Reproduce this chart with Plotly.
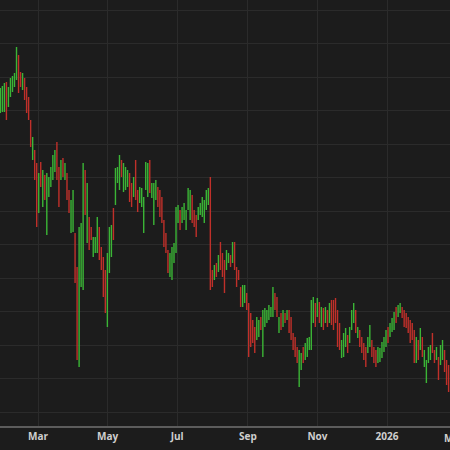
import pandas as pd
import plotly.graph_objects as go

# ---- data (daily bars) ----
high = [36.2,36.4,36.7,36.8,36.3,37.2,37.4,37.7,40.3,39.5,37.8,37.7,37.2,36.3,35.3,33.0,31.3,30.0,28.7,27.7,
        28.8,28.0,27.5,27.7,27.3,28.3,29.5,30.0,30.8,28.3,29.0,29.2,28.7,27.7,26.0,25.0,26.0,21.7,18.3,22.3,
        22.7,28.7,28.0,26.7,23.3,22.3,21.3,21.3,23.3,22.3,20.3,19.3,18.0,19.7,22.3,22.5,24.2,28.2,28.3,29.5,
        29.0,28.7,28.3,28.0,27.7,26.7,27.3,29.0,26.0,26.3,26.2,25.3,28.8,28.7,29.0,26.7,26.7,27.0,26.3,26.0,
        25.3,23.0,21.7,20.0,19.7,20.3,20.7,24.3,24.5,24.0,24.3,24.7,24.0,26.2,26.0,25.5,24.0,23.5,24.3,24.7,
        25.3,25.0,26.0,26.2,27.3,18.0,18.5,18.7,19.5,20.8,19.7,19.0,20.0,19.7,19.5,20.8,20.8,18.3,18.0,16.3,
        16.5,16.5,15.7,14.7,13.7,13.0,12.3,13.3,13.0,13.3,14.0,14.2,14.0,14.5,14.3,16.3,15.7,15.3,13.3,13.7,
        14.0,13.7,14.0,14.0,13.3,11.7,11.3,10.3,10.0,9.7,10.3,10.7,11.2,11.3,15.0,15.3,14.7,15.2,14.8,14.3,
        14.2,14.3,14.0,14.7,15.0,15.0,15.2,14.0,12.7,11.0,11.7,12.2,11.5,12.3,14.0,14.7,14.0,12.3,12.0,11.3,
        10.7,10.3,11.3,12.5,11.0,10.3,10.0,10.3,10.2,10.8,11.3,12.0,12.3,12.7,13.2,13.8,14.3,14.5,14.7,14.3,
        14.0,13.7,13.3,13.0,12.7,12.0,11.3,11.0,12.2,11.3,10.0,9.0,10.3,10.5,11.7,10.0,10.3,9.3,10.5,11.0,
        10.0,9.0,8.5]
low = [33.7,33.8,33.8,33.0,34.3,35.3,35.8,36.3,37.0,35.7,36.3,36.0,35.0,33.7,33.0,30.3,29.0,27.0,22.3,23.7,
       26.3,24.3,25.0,21.5,25.3,26.3,27.0,27.8,27.0,24.3,27.0,27.3,27.0,25.0,23.7,21.7,21.8,16.7,9.0,8.3,
       16.3,16.0,23.5,20.7,20.0,21.0,19.3,19.7,19.7,19.0,18.0,15.3,13.7,12.3,17.7,19.3,21.0,24.5,26.7,26.0,
       27.3,25.8,26.0,26.3,24.8,24.3,25.3,25.0,23.8,24.7,24.3,21.7,26.0,25.3,25.7,25.2,22.5,25.0,24.3,23.3,
       22.7,20.3,19.7,17.7,17.3,17.0,18.7,19.7,22.7,22.0,22.7,23.0,22.0,24.0,23.0,22.7,22.3,21.3,23.0,23.5,
       23.3,22.7,24.0,24.5,16.0,16.3,17.0,17.3,17.8,18.0,17.3,15.7,18.0,18.7,18.3,18.7,18.0,16.3,17.0,14.3,
       14.3,14.7,14.0,9.3,10.3,10.7,9.7,11.0,11.3,12.0,9.3,12.3,12.7,13.0,13.3,13.3,14.0,13.3,11.7,12.0,
       12.3,12.7,13.0,11.7,11.0,10.0,9.3,8.7,6.3,8.0,8.7,9.0,9.3,10.0,10.0,12.7,12.3,13.3,12.7,12.3,
       12.0,12.7,12.3,12.7,12.5,12.0,12.7,10.3,10.0,9.2,9.3,10.3,9.7,10.7,12.0,12.7,11.7,11.2,10.3,9.7,
       9.0,8.3,9.7,10.3,9.3,8.7,8.3,8.7,8.8,9.2,9.8,10.3,10.7,11.3,11.8,12.0,12.7,13.3,13.7,13.2,
       12.3,12.2,11.7,10.7,11.0,8.7,8.7,9.0,10.0,9.3,8.3,6.7,8.7,9.0,9.7,8.7,9.0,7.0,8.5,9.0,
       7.8,6.5,5.8]
open_ = [34.3,34.4,34.5,36.2,34.7,35.7,36.1,36.6,37.5,39.0,37.5,36.4,36.9,35.9,34.9,32.6,29.5,29.5,27.8,24.5,
         28.4,25.0,27.1,23.0,25.7,26.7,27.5,28.2,30.2,27.7,27.4,28.9,27.3,27.2,25.6,22.4,22.6,21.0,17.5,10.5,
         17.5,18.5,27.3,21.8,22.8,22.1,19.7,20.0,20.3,21.8,19.9,18.7,17.3,13.5,18.5,19.9,23.6,25.2,27.0,26.6,
         28.7,26.3,26.4,26.6,27.2,26.3,25.7,28.3,25.6,25.0,24.7,22.4,26.5,25.9,28.4,25.5,23.3,25.4,25.9,25.5,
         24.8,22.5,21.3,19.6,17.8,17.7,19.1,20.6,23.1,23.6,23.0,23.3,22.4,24.4,23.6,25.0,23.7,23.1,23.3,23.7,
         23.7,23.1,24.4,24.8,26.5,17.7,17.3,18.4,18.1,20.3,19.3,18.4,18.4,18.9,19.3,19.1,20.3,17.9,17.8,15.9,
         14.7,15.0,15.4,14.0,13.1,12.6,11.8,11.5,11.6,13.1,10.3,12.7,13.0,13.3,13.5,13.9,15.4,14.9,12.0,13.4,
         12.6,13.5,13.2,13.6,12.9,11.4,10.9,10.0,7.0,8.3,10.0,9.3,9.7,10.3,10.8,13.2,14.3,13.7,14.4,12.7,
         13.8,13.0,13.7,13.1,14.5,14.4,14.7,13.3,12.2,9.5,9.8,10.7,11.1,11.0,12.4,13.1,13.5,11.4,11.7,11.0,
         10.4,9.9,10.0,10.7,10.7,10.0,9.7,9.0,9.1,9.5,10.1,10.6,12.0,11.6,12.1,12.4,14.0,13.5,13.9,14.1,
         13.7,13.4,13.0,12.6,12.4,11.4,9.2,10.6,10.4,10.9,8.6,7.1,9.0,9.3,11.3,9.8,9.3,8.9,8.9,9.4,
         9.6,8.6,8.1]
close = [35.7,35.9,36.1,33.8,35.9,36.8,37.1,37.4,39.6,36.4,36.6,37.3,35.5,34.2,33.5,30.8,30.9,27.6,23.5,27.0,
         26.8,27.4,25.5,26.8,27.0,28.0,29.1,29.7,27.7,25.0,28.6,27.7,28.4,25.5,24.2,24.4,25.3,17.6,11.0,20.5,
         21.6,26.5,24.3,25.5,20.7,21.3,20.9,21.0,22.7,19.6,18.5,16.0,14.4,18.5,21.5,22.0,21.6,27.5,28.0,28.8,
         27.6,28.1,27.9,27.7,25.3,24.8,27.0,25.7,24.2,26.0,25.8,24.6,28.3,28.0,26.3,26.4,25.9,26.6,24.7,23.8,
         23.2,20.8,20.1,18.2,19.2,19.7,20.3,23.4,24.1,22.4,24.0,24.4,23.6,25.8,25.4,23.2,22.6,21.7,24.0,24.5,
         24.9,24.6,25.6,25.9,17.0,16.6,18.2,17.6,19.2,18.6,17.8,16.4,19.6,19.5,18.6,20.4,18.6,16.7,17.2,14.7,
         16.1,16.2,14.3,10.4,11.0,11.2,10.2,12.9,12.7,12.3,13.1,13.8,13.7,14.2,14.1,15.7,14.3,13.7,13.0,12.3,
         13.7,12.9,13.8,12.1,11.5,10.3,9.7,9.0,9.3,9.4,9.0,10.4,10.8,11.0,14.4,14.9,12.8,14.8,13.1,13.9,
         12.4,14.0,12.6,14.3,13.0,12.6,13.2,11.0,10.5,10.6,11.2,11.8,10.1,12.0,13.6,14.3,12.2,12.1,10.6,10.0,
         9.3,8.7,11.0,12.1,9.6,9.0,8.6,10.0,9.9,10.5,11.0,11.7,11.0,12.4,12.9,13.4,13.0,14.3,14.5,13.4,
         12.6,12.5,12.0,11.1,11.3,9.3,10.8,9.4,11.8,9.7,9.7,8.6,10.0,10.2,10.1,9.0,10.0,7.4,10.1,10.6,
         8.2,6.9,6.2]

dates = pd.date_range("2025-01-27", "2026-02-24", periods=len(close))

tick_dates = ["2025-03-01", "2025-05-01", "2025-07-01", "2025-09-01", "2025-11-01", "2026-01-01"]
tick_text = ["Mar", "May", "Jul", "Sep", "Nov", "2026"]
extra_tick_date = "2026-03-01"
extra_tick_text = "Mar"

x_left = pd.Timestamp("2025-01-26 16:20")
x_right = pd.Timestamp("2026-02-25 05:45")

BG = "#1c1c1c"
GRID = "#2b2b2b"
UP = "#3bb536"
DOWN = "#c0302a"

fig = go.Figure(go.Ohlc(
    x=dates, open=open_, high=high, low=low, close=close,
    increasing=dict(line=dict(color=UP, width=1.4)),
    decreasing=dict(line=dict(color=DOWN, width=1.4)),
    tickwidth=0.25,
    hoverinfo="skip",
))

fig.update_layout(
    width=450, height=450,
    margin=dict(l=0, r=0, t=0, b=24),
    paper_bgcolor=BG, plot_bgcolor=BG,
    showlegend=False,
    font=dict(family="Open Sans", size=10, color="#cfcfcf"),
)
fig.update_xaxes(
    type="date",
    range=[x_left, x_right],
    rangeslider=dict(visible=False),
    tickvals=tick_dates, ticktext=tick_text,
    showgrid=True, gridcolor=GRID, gridwidth=1,
    showline=True, linecolor="#5c5c5c", linewidth=2,
    ticks="", tickfont=dict(size=10, color="#cfcfcf", weight="bold"),
    zeroline=False,
)
fig.update_yaxes(
    range=[2.4, 45.0],
    tick0=3.8, dtick=3.35,
    showgrid=True, gridcolor=GRID, gridwidth=1,
    showticklabels=False, ticks="",
    zeroline=False, showline=False,
)

# partially visible tick label beyond the right edge
span = (x_right - x_left)
frac = (pd.Timestamp(extra_tick_date) - x_left) / span
fig.add_annotation(
    x=frac, xref="paper", xanchor="center",
    y=0, yref="paper", yanchor="top", yshift=-3,
    text=extra_tick_text, showarrow=False,
    font=dict(size=10, color="#cfcfcf", weight="bold"),
)

fig.write_html(
    "out.html",
    config={"displayModeBar": False},
    post_script="document.body.style.margin='0';document.body.style.background='#1c1c1c';",
)
